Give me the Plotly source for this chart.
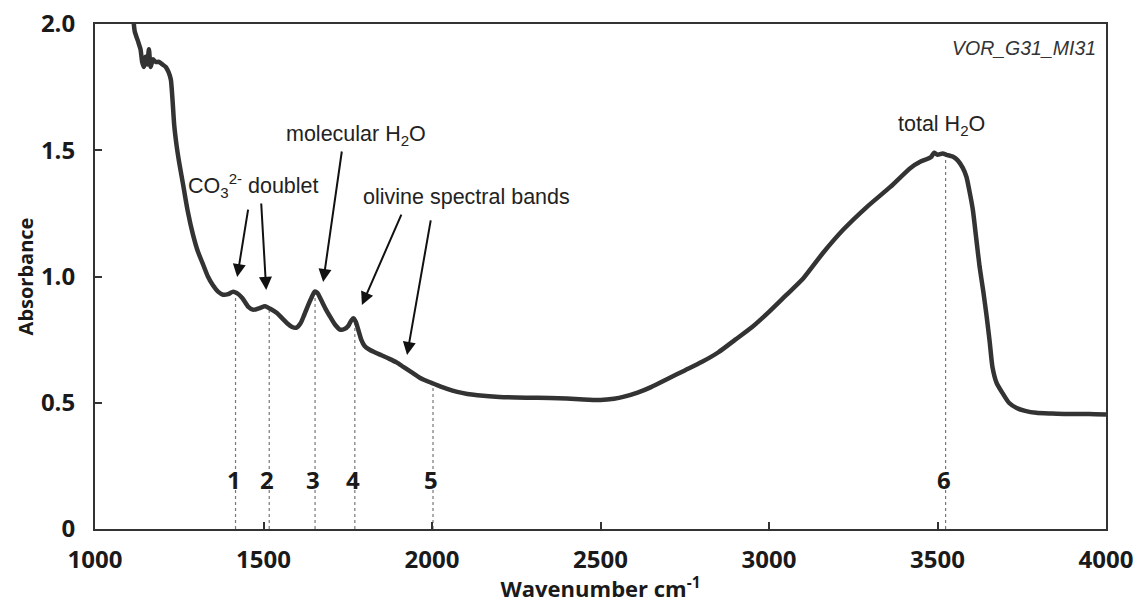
import numpy as np
import plotly.graph_objects as go

# Spectrum (wavenumber cm-1, absorbance)
wavenumber = [1112, 1118, 1128, 1135, 1140, 1145, 1150, 1155, 1160, 1165, 1172, 1180, 1190, 1200,
              1210, 1218, 1225, 1230, 1235, 1242, 1250, 1262, 1275, 1290, 1305, 1320, 1335, 1350,
              1365, 1380, 1395, 1410, 1420, 1437, 1455, 1470, 1488, 1505, 1520, 1540, 1555, 1570,
              1585, 1597, 1610, 1620, 1632, 1642, 1652, 1660, 1670, 1685, 1698, 1712, 1727, 1740,
              1752, 1760, 1767, 1774, 1781, 1790, 1800, 1815, 1830, 1850, 1870, 1895, 1915, 1940,
              1965, 1990, 2015, 2045, 2075, 2105, 2135, 2200, 2280, 2350, 2400, 2450, 2500,
              2540, 2570, 2610, 2650, 2700, 2750, 2800, 2850, 2900, 2950, 3000, 3050, 3100, 3160,
              3220, 3290, 3360, 3420, 3450, 3480, 3490, 3500, 3515, 3527, 3545, 3560, 3575, 3586,
              3596, 3605, 3615, 3625, 3636, 3646, 3655, 3663, 3675, 3693, 3712, 3735, 3760, 3793,
              3840, 3883, 3950, 4000]
absorbance = [2.05, 1.97, 1.93, 1.90, 1.85, 1.83, 1.87, 1.84, 1.90, 1.83, 1.86, 1.85, 1.85, 1.84,
              1.83, 1.81, 1.78, 1.70, 1.60, 1.52, 1.45, 1.36, 1.26, 1.17, 1.10, 1.05, 1.00, 0.965,
              0.94, 0.928, 0.93, 0.94, 0.935, 0.915, 0.88, 0.868, 0.875, 0.882, 0.872, 0.855, 0.835, 0.815,
              0.80, 0.797, 0.815, 0.845, 0.885, 0.915, 0.94, 0.935, 0.91, 0.87, 0.84, 0.81, 0.79, 0.792,
              0.805, 0.825, 0.835, 0.82, 0.79, 0.75, 0.725, 0.71, 0.70, 0.688, 0.676, 0.66, 0.642, 0.62,
              0.598, 0.583, 0.57, 0.555, 0.543, 0.535, 0.53, 0.523, 0.52, 0.519, 0.517, 0.513, 0.511,
              0.516, 0.524, 0.54, 0.562, 0.595, 0.628, 0.661, 0.70, 0.75, 0.80, 0.86, 0.925, 0.99, 1.093,
              1.185, 1.275, 1.355, 1.43, 1.455, 1.472, 1.49, 1.482, 1.487, 1.482, 1.475, 1.46, 1.43, 1.394,
              1.33, 1.263, 1.15, 1.038, 0.94, 0.84, 0.74, 0.642, 0.58, 0.538, 0.50, 0.479, 0.468, 0.46,
              0.457, 0.455, 0.455, 0.453]

# Marked bands
band_labels = ["1", "2", "3", "4", "5", "6"]
band_wn = [1417, 1517, 1653, 1771, 2003, 3524]

# Text annotations
note_text = ["CO<sub>3</sub><sup>2-</sup> doublet", "molecular H<sub>2</sub>O",
             "olivine spectral bands", "total H<sub>2</sub>O"]
note_x = [1471, 1775, 2102, 3513]
note_y = [1.362, 1.56, 1.315, 1.60]

# Arrows: tail (x, y) -> head (x, y)
arrow_tail_x = [1455, 1493, 1733, 1911, 1997]
arrow_tail_y = [1.271, 1.295, 1.501, 1.251, 1.228]
arrow_head_x = [1422, 1508, 1677, 1792, 1926]
arrow_head_y = [0.998, 0.947, 0.978, 0.887, 0.689]

sample_name = "VOR_G31_MI31"

x_ticks = [1000, 1500, 2000, 2500, 3000, 3500, 4000]
y_ticks = [0, 0.5, 1.0, 1.5, 2.0]
y_ticktext = ["0", "0.5", "1.0", "1.5", "2.0"]

fig = go.Figure()

band_tops = np.interp(band_wn, wavenumber, absorbance)
for bx, bt in zip(band_wn, band_tops):
    fig.add_trace(go.Scatter(x=[bx, bx], y=[0, bt], mode="lines",
                             line=dict(color="#777777", width=1.2, dash="dot"),
                             hoverinfo="skip", showlegend=False))

fig.add_trace(go.Scatter(x=wavenumber, y=absorbance, mode="lines",
                         line=dict(color="#333333", width=4.5, shape="spline", smoothing=0.6),
                         showlegend=False, cliponaxis=True))

tick_font = dict(family="Open Sans", size=24, color="#1a1a1a", weight="bold")
note_font = dict(family="Liberation Sans, Arial", size=21.5, color="#222222")

for lab, bx in zip(band_labels, band_wn):
    fig.add_annotation(x=bx, y=0.198, text=lab, showarrow=False, xref="x", yref="y",
                       xshift=-2, font=tick_font)

for t, nx, ny in zip(note_text, note_x, note_y):
    fig.add_annotation(x=nx, y=ny, text=t, showarrow=False, xref="x", yref="y", font=note_font)

for tx, ty, hx, hy in zip(arrow_tail_x, arrow_tail_y, arrow_head_x, arrow_head_y):
    fig.add_annotation(x=hx, y=hy, ax=tx, ay=ty, xref="x", yref="y", axref="x", ayref="y",
                       text="", showarrow=True, arrowhead=2, arrowsize=1.3, arrowwidth=2,
                       arrowcolor="#111111")

fig.add_annotation(x=3975, y=1.905, text="<i>" + sample_name + "</i>", showarrow=False,
                   xref="x", yref="y", xanchor="right",
                   font=dict(family="Liberation Sans, Arial", size=19.5, color="#333333"))

fig.update_layout(
    width=1135, height=603,
    margin=dict(l=95, r=29, t=24, b=74, autoexpand=False),
    paper_bgcolor="white", plot_bgcolor="white",
    xaxis=dict(range=[1000, 4000], tickvals=x_ticks, ticks="inside", ticklen=7, tickwidth=1.5,
               tickcolor="#333333", showline=True, linecolor="#333333", linewidth=2, mirror=True,
               showgrid=False, zeroline=False, tickfont=tick_font, ticklabelstandoff=8,
               automargin=False,
               title=dict(text="Wavenumber cm<sup>-1</sup>", standoff=6,
                          font=dict(family="Open Sans", size=22, color="#1a1a1a", weight="bold"))),
    yaxis=dict(range=[0, 2], tickvals=y_ticks, ticktext=y_ticktext, ticks="inside", ticklen=7,
               tickwidth=1.5, tickcolor="#333333", showline=True, linecolor="#333333", linewidth=2,
               mirror=True, showgrid=False, zeroline=False, tickfont=tick_font, ticklabelstandoff=13,
               automargin=False,
               title=dict(text="Absorbance", standoff=2,
                          font=dict(family="Open Sans", size=20, color="#1a1a1a", weight="bold"))),
)

fig.write_html("out.html")
